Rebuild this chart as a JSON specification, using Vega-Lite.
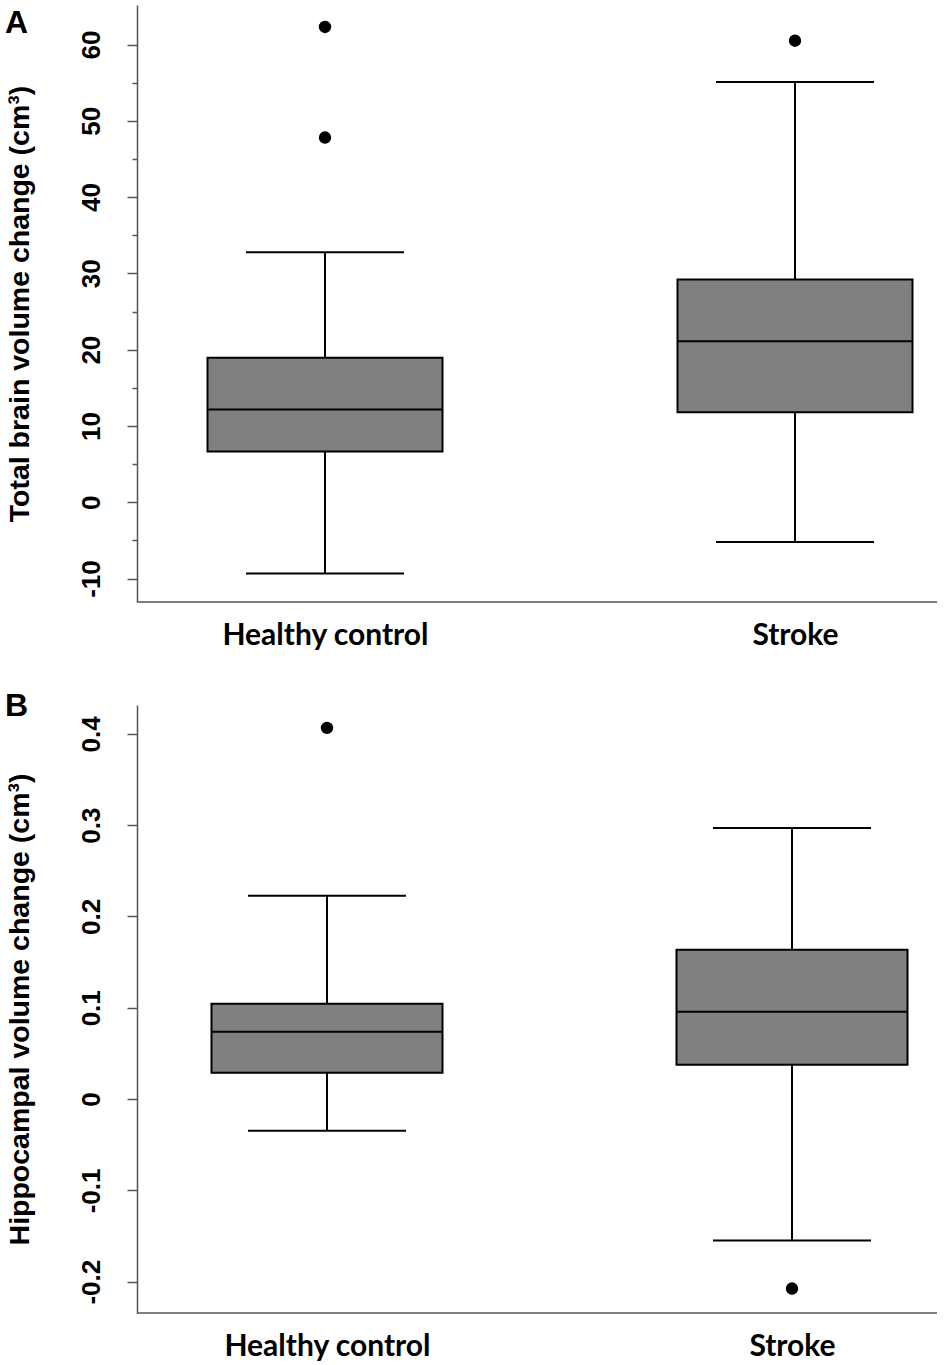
{
  "$schema": "https://vega.github.io/schema/vega-lite/v6.json",
  "padding": {"top": 5, "left": 5, "right": 5, "bottom": 5},
  "config": {
    "view": {"stroke": null},
    "font": "Liberation Sans",
    "axisY": {
      "grid": false,
      "domainColor": "#555555",
      "domainWidth": 1.5,
      "tickColor": "#555555",
      "tickWidth": 1.5,
      "labelAngle": -90,
      "labelAlign": "center",
      "labelBaseline": "bottom",
      "labelFont": "Liberation Sans",
      "labelFontSize": 26,
      "labelFontWeight": "bold",
      "labelColor": "black",
      "labelPadding": 23,
      "titleFont": "Liberation Sans",
      "titleFontSize": 28.5,
      "titleFontWeight": "bold",
      "titleColor": "black",
      "titlePadding": 44
    },
    "axisX": {
      "grid": false,
      "domain": false,
      "ticks": false,
      "title": null,
      "labelAngle": 0,
      "labelLimit": 0,
      "labelFont": "Lato",
      "labelFontWeight": "bold",
      "labelFontSize": 30,
      "labelColor": "black",
      "labelPadding": 18
    },
    "title": {"font": "Liberation Sans", "fontWeight": "bold", "fontSize": 32, "color": "black", "anchor": "start", "frame": "bounds"}
  },
  "datasets": {
    "boxA": [
      {"group": "Healthy control", "lower": -9.36, "q1": 6.65, "median": 12.17, "q3": 18.95, "upper": 32.77},
      {"group": "Stroke", "lower": -5.2, "q1": 11.8, "median": 21.1, "q3": 29.2, "upper": 55.1}
    ],
    "outA": [
      {"group": "Healthy control", "value": 62.3},
      {"group": "Healthy control", "value": 47.8},
      {"group": "Stroke", "value": 60.5}
    ],
    "boxB": [
      {"group": "Healthy control", "lower": -0.0347, "q1": 0.0288, "median": 0.0737, "q3": 0.1043, "upper": 0.2226},
      {"group": "Stroke", "lower": -0.155, "q1": 0.0375, "median": 0.0956, "q3": 0.1635, "upper": 0.297}
    ],
    "outB": [
      {"group": "Healthy control", "value": 0.4065},
      {"group": "Stroke", "value": -0.2075}
    ]
  },
  "bounds": "flush",
  "spacing": 103,
  "vconcat": [
    {
      "width": 800,
      "height": 597,
      "title": {"text": "A", "offset": -35},
      "layer": [
        {
          "data": {"name": "boxA"},
          "mark": {"type": "rule", "color": "black", "strokeWidth": 2},
          "encoding": {
            "x": {"field": "group", "type": "nominal", "scale": {"type": "point", "domain": ["Healthy control", "Stroke"], "range": [188, 658], "padding": 0}},
            "y": {"field": "lower", "type": "quantitative", "title": "Total brain volume change (cm³)",
              "scale": {"domain": [-13.08, 65.18], "nice": false, "zero": false},
              "axis": {
                "values": [-10, -5, 0, 5, 10, 15, 20, 25, 30, 35, 40, 45, 50, 55, 60],
                "labelExpr": "datum.value % 10 === 0 ? '' + datum.value : ''",
                "tickSize": {"condition": {"test": "datum.value % 10 === 0", "value": 10}, "value": 5}
              }},
            "y2": {"field": "upper"}
          }
        },
        {
          "data": {"name": "boxA"},
          "mark": {"type": "bar", "size": 235, "fill": "#808080", "stroke": "black", "strokeWidth": 2},
          "encoding": {
            "x": {"field": "group", "type": "nominal"},
            "y": {"field": "q1", "type": "quantitative"},
            "y2": {"field": "q3"}
          }
        },
        {
          "data": {"name": "boxA"},
          "mark": {"type": "tick", "size": 235, "thickness": 2, "color": "black", "opacity": 1},
          "encoding": {
            "x": {"field": "group", "type": "nominal"},
            "y": {"field": "median", "type": "quantitative"}
          }
        },
        {
          "data": {"name": "boxA"},
          "mark": {"type": "tick", "size": 158, "thickness": 2, "color": "black", "opacity": 1},
          "encoding": {
            "x": {"field": "group", "type": "nominal"},
            "y": {"field": "lower", "type": "quantitative"}
          }
        },
        {
          "data": {"name": "boxA"},
          "mark": {"type": "tick", "size": 158, "thickness": 2, "color": "black", "opacity": 1},
          "encoding": {
            "x": {"field": "group", "type": "nominal"},
            "y": {"field": "upper", "type": "quantitative"}
          }
        },
        {
          "data": {"name": "outA"},
          "mark": {"type": "circle", "size": 154, "color": "black", "opacity": 1},
          "encoding": {
            "x": {"field": "group", "type": "nominal"},
            "y": {"field": "value", "type": "quantitative"}
          }
        },
        {
          "data": {"values": [{}]},
          "mark": {"type": "rule", "color": "#555555", "strokeWidth": 1.5},
          "encoding": {"y": {"datum": -13.08}}
        }
      ]
    },
    {
      "width": 800,
      "height": 608,
      "title": {"text": "B", "offset": -18},
      "layer": [
        {
          "data": {"name": "boxB"},
          "mark": {"type": "rule", "color": "black", "strokeWidth": 2},
          "encoding": {
            "x": {"field": "group", "type": "nominal", "scale": {"type": "point", "domain": ["Healthy control", "Stroke"], "range": [190, 655], "padding": 0}},
            "y": {"field": "lower", "type": "quantitative", "title": "Hippocampal volume change (cm³)",
              "scale": {"domain": [-0.2343, 0.4316], "nice": false, "zero": false},
              "axis": {
                "values": [-0.2, -0.1, 0, 0.1, 0.2, 0.3, 0.4],
                "labelExpr": "'' + datum.value",
                "tickSize": 10
              }},
            "y2": {"field": "upper"}
          }
        },
        {
          "data": {"name": "boxB"},
          "mark": {"type": "bar", "size": 231, "fill": "#808080", "stroke": "black", "strokeWidth": 2},
          "encoding": {
            "x": {"field": "group", "type": "nominal"},
            "y": {"field": "q1", "type": "quantitative"},
            "y2": {"field": "q3"}
          }
        },
        {
          "data": {"name": "boxB"},
          "mark": {"type": "tick", "size": 231, "thickness": 2, "color": "black", "opacity": 1},
          "encoding": {
            "x": {"field": "group", "type": "nominal"},
            "y": {"field": "median", "type": "quantitative"}
          }
        },
        {
          "data": {"name": "boxB"},
          "mark": {"type": "tick", "size": 158, "thickness": 2, "color": "black", "opacity": 1},
          "encoding": {
            "x": {"field": "group", "type": "nominal"},
            "y": {"field": "lower", "type": "quantitative"}
          }
        },
        {
          "data": {"name": "boxB"},
          "mark": {"type": "tick", "size": 158, "thickness": 2, "color": "black", "opacity": 1},
          "encoding": {
            "x": {"field": "group", "type": "nominal"},
            "y": {"field": "upper", "type": "quantitative"}
          }
        },
        {
          "data": {"name": "outB"},
          "mark": {"type": "circle", "size": 154, "color": "black", "opacity": 1},
          "encoding": {
            "x": {"field": "group", "type": "nominal"},
            "y": {"field": "value", "type": "quantitative"}
          }
        },
        {
          "data": {"values": [{}]},
          "mark": {"type": "rule", "color": "#555555", "strokeWidth": 1.5},
          "encoding": {"y": {"datum": -0.2343}}
        }
      ]
    }
  ]
}
